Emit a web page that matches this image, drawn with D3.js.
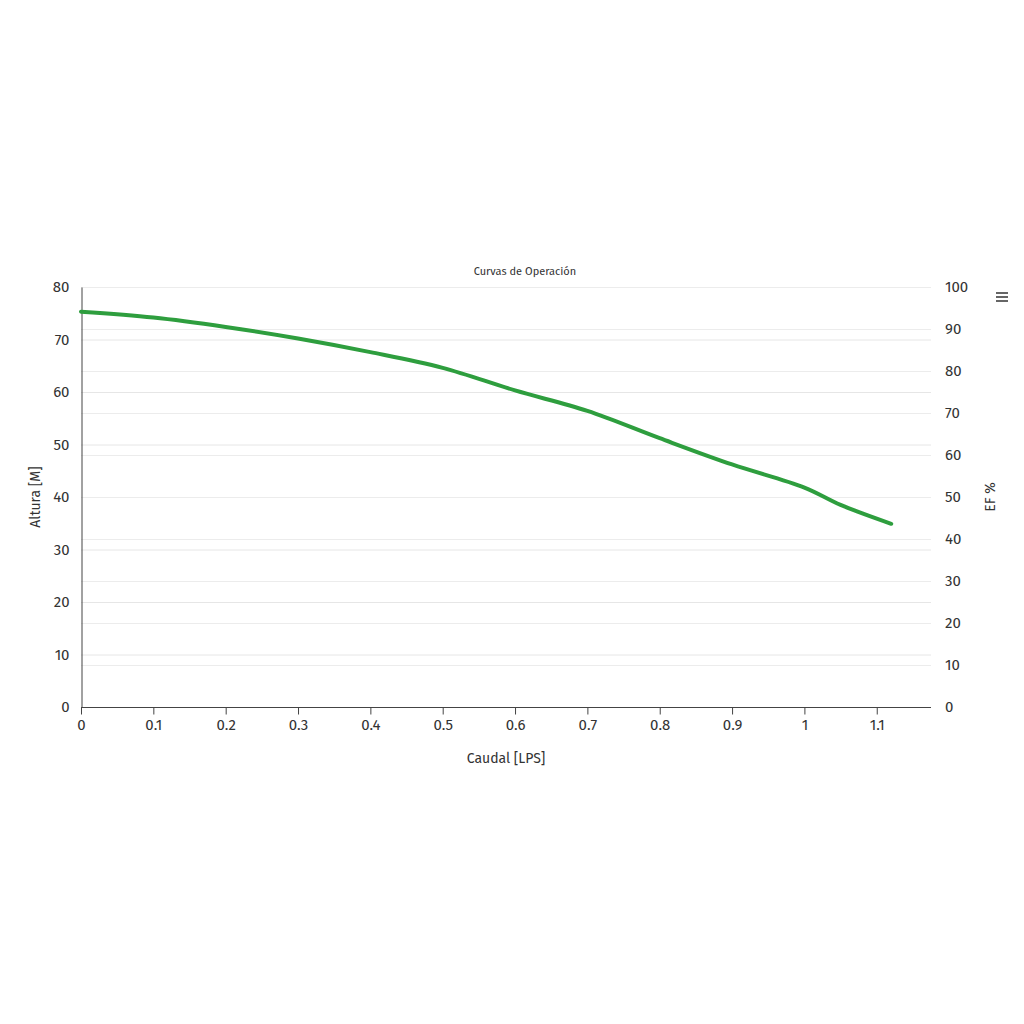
<!DOCTYPE html>
<html><head><meta charset="utf-8">
<script src="https://cdn.jsdelivr.net/npm/d3@7"></script>
<style>body{margin:0;background:#fff}text{font-family:"Fira Sans","Noto Sans","Open Sans",sans-serif}</style>
</head><body>
<svg id="c" width="1024" height="1024"></svg>
<script>
const flow = [0, 0.1, 0.2, 0.3, 0.4, 0.5, 0.6, 0.7, 0.8, 0.9, 1.0, 1.05, 1.12];
const head = [75.3, 74.2, 72.4, 70.2, 67.6, 64.6, 60.3, 56.4, 51.2, 46.2, 41.8, 38.5, 34.9];
const xTicks = [0, 0.1, 0.2, 0.3, 0.4, 0.5, 0.6, 0.7, 0.8, 0.9, 1, 1.1];
const leftTicks = [0, 10, 20, 30, 40, 50, 60, 70, 80];
const rightTicks = [0, 10, 20, 30, 40, 50, 60, 70, 80, 90, 100];

const svg = d3.select("#c");
const L = 81, R = 931, T = 287, B = 707;
const x = d3.scaleLinear().domain([0, 1.175]).range([L, R]);
const yL = d3.scaleLinear().domain([0, 80]).range([B, T]);
const yR = d3.scaleLinear().domain([0, 100]).range([B, T]);

// grid
const g = svg.append("g");
g.selectAll(".gl").data(leftTicks).join("line")
  .attr("x1", L).attr("x2", R).attr("y1", d => yL(d) + 0.5).attr("y2", d => yL(d) + 0.5)
  .attr("stroke", "#e6e6e6");
g.selectAll(".gr").data(rightTicks).join("line")
  .attr("x1", L).attr("x2", R).attr("y1", d => yR(d) + 0.5).attr("y2", d => yR(d) + 0.5)
  .attr("stroke", "#ececec");

// x axis
const xa = svg.append("g").attr("transform", `translate(0,${B + 0.5})`)
  .call(d3.axisBottom(x).tickValues(xTicks).tickSize(7).tickPadding(5).tickFormat(d => d3.format("~g")(d)));
xa.select(".domain").attr("stroke", "#444").attr("d", `M${L},0H${R}`);
xa.selectAll(".tick line").attr("stroke", "#444");
xa.selectAll("text").attr("fill", "#333").attr("font-size", 15);

// left axis
const la = svg.append("g").attr("transform", `translate(${L + 0.5},0)`)
  .call(d3.axisLeft(yL).tickValues(leftTicks).tickSize(0).tickPadding(12));
la.select(".domain").attr("stroke", "#444");
la.selectAll("text").attr("fill", "#333").attr("font-size", 15);

// right axis
const ra = svg.append("g").attr("transform", `translate(${R + 14},0)`)
  .call(d3.axisRight(yR).tickValues(rightTicks).tickSize(0).tickPadding(0));
ra.select(".domain").remove();
ra.selectAll("text").attr("fill", "#333").attr("font-size", 15);

// line
svg.append("path")
  .datum(flow.map((f, i) => [f, head[i]]))
  .attr("fill", "none").attr("stroke", "#2e9e3e").attr("stroke-width", 4)
  .attr("stroke-linecap", "round")
  .attr("d", d3.line().x(d => x(d[0])).y(d => yL(d[1])).curve(d3.curveCatmullRom.alpha(0.5)));

// titles
svg.append("text").attr("x", 525).attr("y", 275).attr("text-anchor", "middle")
  .attr("font-size", 11).attr("fill", "#333").text("Curvas de Operación");
svg.append("text").attr("x", 506).attr("y", 763).attr("text-anchor", "middle")
  .attr("font-size", 14).attr("fill", "#333").text("Caudal [LPS]");
svg.append("text").attr("transform", "translate(40,497) rotate(-90)").attr("text-anchor", "middle")
  .attr("font-size", 14).attr("fill", "#333").text("Altura [M]");
svg.append("text").attr("transform", "translate(995,497) rotate(-90)").attr("text-anchor", "middle")
  .attr("font-size", 14).attr("fill", "#333").text("EF %");

// menu icon
[0, 4, 8].forEach(o => svg.append("rect").attr("x", 996).attr("y", 292 + o).attr("width", 12).attr("height", 2).attr("fill", "#666"));
</script>
</body></html>
